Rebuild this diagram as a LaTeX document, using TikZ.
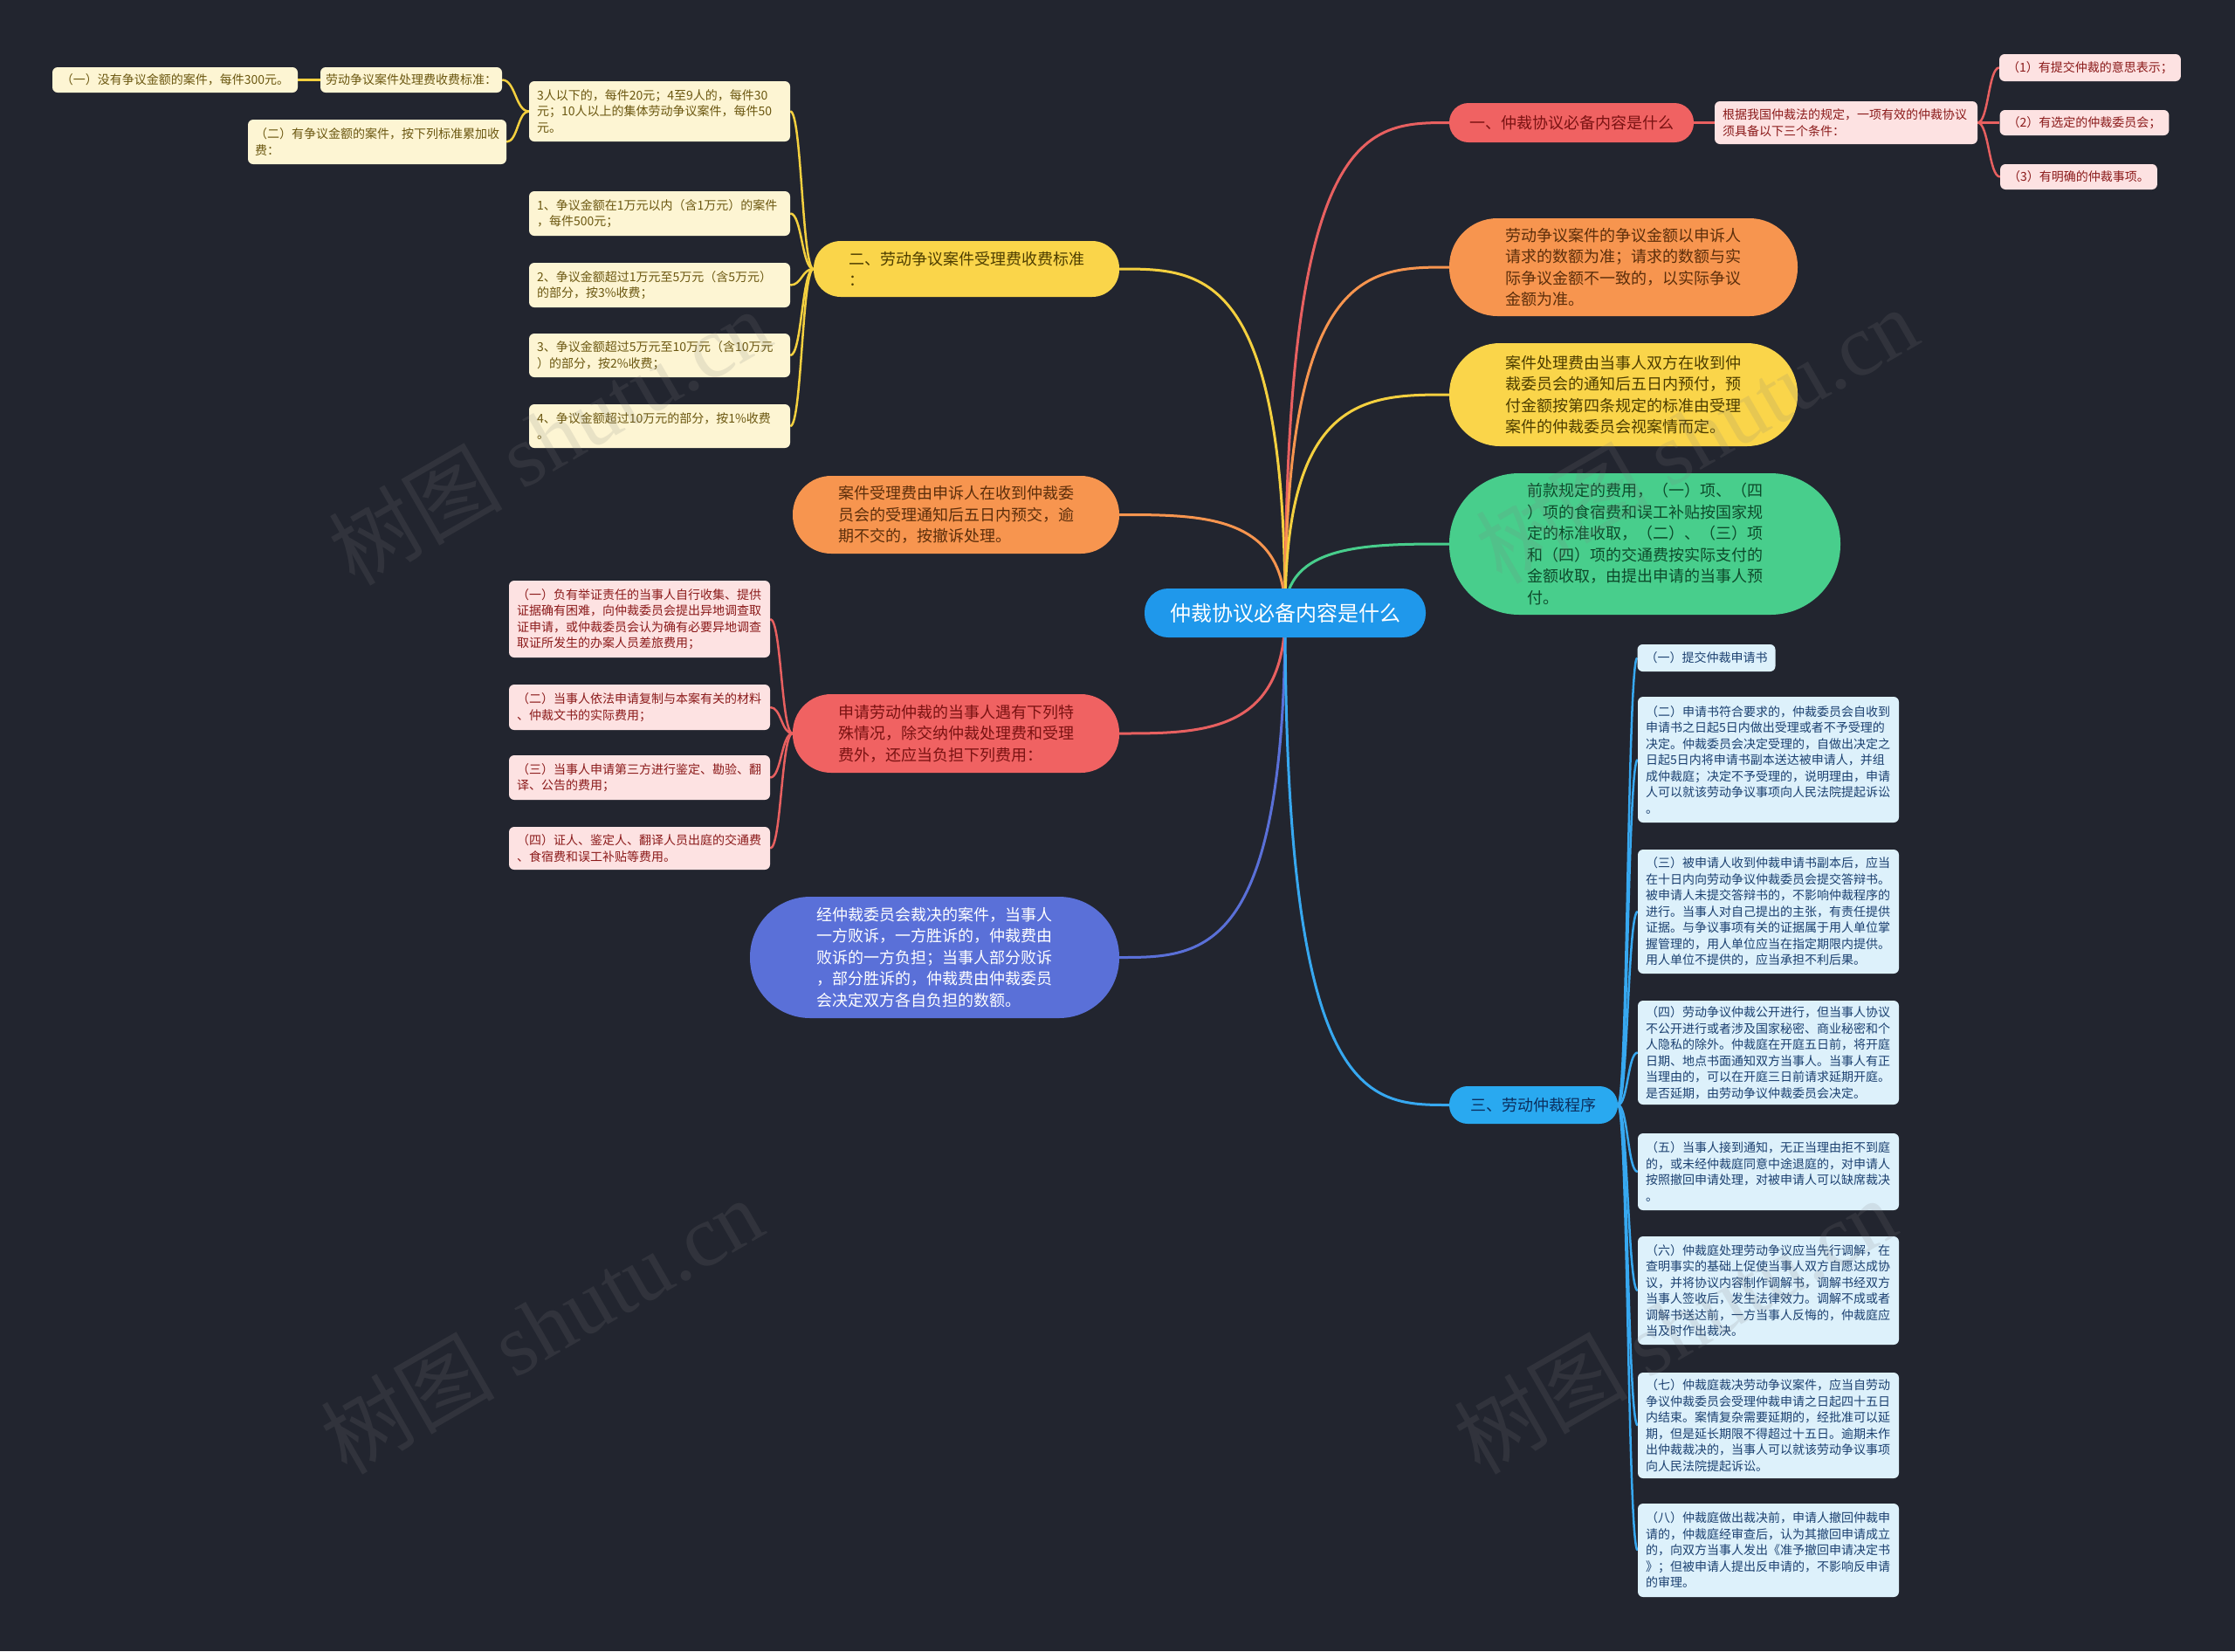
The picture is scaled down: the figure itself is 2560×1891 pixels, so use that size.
\documentclass[tikz,border=0pt]{standalone}
\usepackage{fontspec}
\setmainfont{Noto Sans CJK SC}
\newfontfamily\wmlatin{Liberation Serif}
\usetikzlibrary{calc,backgrounds}
\definecolor{bgc}{HTML}{22252F}
\definecolor{cRoot}{HTML}{1F98EB}
\definecolor{cYl}{HTML}{FAD54A}
\definecolor{cYlT}{HTML}{4D3D00}
\definecolor{cYleaf}{HTML}{FDF5D3}
\definecolor{cYleafT}{HTML}{6B5710}
\definecolor{cOr}{HTML}{F7954F}
\definecolor{cOrT}{HTML}{5C2E0B}
\definecolor{cRd}{HTML}{F06262}
\definecolor{cRdT}{HTML}{7A1212}
\definecolor{cRleaf}{HTML}{FDE2E2}
\definecolor{cRleafT}{HTML}{8B1A1A}
\definecolor{cGr}{HTML}{48CE8C}
\definecolor{cGrT}{HTML}{0D4A2B}
\definecolor{cPu}{HTML}{5A70D8}
\definecolor{cBl}{HTML}{29A9F0}
\definecolor{cBlT}{HTML}{0B2F5E}
\definecolor{cBleaf}{HTML}{DDF1FB}
\definecolor{cBleafT}{HTML}{1B4070}
\definecolor{lnY}{HTML}{F4D03F}
\definecolor{lnO}{HTML}{F7954F}
\definecolor{lnR}{HTML}{E86060}
\definecolor{lnG}{HTML}{48CE8C}
\definecolor{lnP}{HTML}{5A70D8}
\definecolor{lnB}{HTML}{37A8F0}
\newcommand\mmroot[3]{\draw[#1] (#2) .. controls (#2 |- #3) and ($(#2 |- #3)!0.5!(#3)$) .. (#3);}
\newcommand\mmkid[3]{\draw[#1] (#2) .. controls ($(#2)!0.5!(#2 -| #3)$) and ($(#3)!0.5!(#3 -| #2)$) .. (#3);}
\begin{document}
\begin{tikzpicture}[x=1pt,y=-1pt,
  lone/.style={inner xsep=0pt, inner ysep=2pt, align=left, font=\fontsize{18}{24.5}\selectfont},
  leaf/.style={inner xsep=9pt, inner ysep=2pt, align=left, rounded corners=6pt, font=\fontsize{14}{18.5}\selectfont},
  wide/.style={text width=281pt, minimum width=299pt},
  yleaf/.style={leaf, fill=cYleaf, text=cYleafT},
  rleaf/.style={leaf, fill=cRleaf, text=cRleafT},
  bleaf/.style={leaf, fill=cBleaf, text=cBleafT},
  mainln/.style={line width=3pt, #1},
  kidln/.style={line width=2.5pt, #1},
  wm/.style={text=gray, opacity=0.16, rotate=30, font=\fontsize{100}{100}\selectfont}
]
\useasboundingbox (0,0) rectangle (2560,1891);

% root
\node[fill=cRoot, text=white, minimum width=322pt, minimum height=56pt, rounded corners=27pt, font=\fontsize{24}{28}\selectfont, inner sep=0pt] (root) at (1472,702) {仲裁协议必备内容是什么};

% level 1 left
\node[lone, fill=cYl, text=cYlT, minimum width=350pt, minimum height=64pt, rounded corners=31pt] (Y1) at (1107,308) {二、劳动争议案件受理费收费标准\\：};
\node[lone, fill=cOr, text=cOrT, minimum width=374pt, minimum height=89pt, rounded corners=44pt] (O1) at (1095,589.5) {案件受理费由申诉人在收到仲裁委\\员会的受理通知后五日内预交，逾\\期不交的，按撤诉处理。};
\node[lone, fill=cRd, text=cRdT, minimum width=374pt, minimum height=90pt, rounded corners=44pt] (R1) at (1095,840) {申请劳动仲裁的当事人遇有下列特\\殊情况，除交纳仲裁处理费和受理\\费外，还应当负担下列费用：};
\node[lone, fill=cPu, text=white, minimum width=423pt, minimum height=139pt, rounded corners=69pt] (P1) at (1070.5,1096.5) {经仲裁委员会裁决的案件，当事人\\一方败诉，一方胜诉的，仲裁费由\\败诉的一方负担；当事人部分败诉\\，部分胜诉的，仲裁费由仲裁委员\\会决定双方各自负担的数额。};

% level 1 right
\node[lone, fill=cRd, text=cRdT, minimum width=280pt, minimum height=45pt, rounded corners=22pt] (RB) at (1800,140.5) {一、仲裁协议必备内容是什么};
\node[lone, fill=cOr, text=cOrT, minimum width=399pt, minimum height=112pt, rounded corners=55pt] (O2) at (1859.5,306) {劳动争议案件的争议金额以申诉人\\请求的数额为准；请求的数额与实\\际争议金额不一致的，以实际争议\\金额为准。};
\node[lone, fill=cYl, text=cYlT, minimum width=399pt, minimum height=118pt, rounded corners=58pt] (Y2) at (1859.5,452) {案件处理费由当事人双方在收到仲\\裁委员会的通知后五日内预付，预\\付金额按第四条规定的标准由受理\\案件的仲裁委员会视案情而定。};
\node[lone, fill=cGr, text=cGrT, minimum width=448pt, minimum height=162pt, rounded corners=80pt] (G1) at (1884,623) {前款规定的费用，（一）项、（四\\）项的食宿费和误工补贴按国家规\\定的标准收取，（二）、（三）项\\和（四）项的交通费按实际支付的\\金额收取，由提出申请的当事人预\\付。};
\node[lone, fill=cBl, text=cBlT, minimum width=193pt, minimum height=43pt, rounded corners=21pt] (BB) at (1756.5,1265.5) {三、劳动仲裁程序};

% yellow leaves
\node[yleaf, minimum width=281pt, minimum height=29pt] (Lt1) at (200.5,91.5) {（一）没有争议金额的案件，每件300元。};
\node[yleaf, minimum width=208pt, minimum height=29pt, inner xsep=4pt] (Lt2) at (471,91.5) {劳动争议案件处理费收费标准：};
\node[yleaf, text width=280pt, inner xsep=8pt, minimum height=51pt] (Lt3) at (432,162.5) {（二）有争议金额的案件，按下列标准累加收\\费：};
\node[yleaf, wide, minimum height=69pt] (Ya0) at (755.5,127.5) {3人以下的，每件20元；4至9人的，每件30\\元；10人以上的集体劳动争议案件，每件50\\元。};
\node[yleaf, wide, minimum height=51pt] (Ya1) at (755.5,244.5) {1、争议金额在1万元以内（含1万元）的案件\\，每件500元；};
\node[yleaf, wide, minimum height=51pt] (Ya2) at (755.5,326.5) {2、争议金额超过1万元至5万元（含5万元）\\的部分，按3\%收费；};
\node[yleaf, wide, minimum height=50pt] (Ya3) at (755.5,407) {3、争议金额超过5万元至10万元（含10万元\\）的部分，按2\%收费；};
\node[yleaf, wide, minimum height=50pt] (Ya4) at (755.5,488) {4、争议金额超过10万元的部分，按1\%收费\\。};

% red leaves
\node[rleaf, wide, minimum height=88pt] (Ra1) at (732.5,709) {（一）负有举证责任的当事人自行收集、提供\\证据确有困难，向仲裁委员会提出异地调查取\\证申请，或仲裁委员会认为确有必要异地调查\\取证所发生的办案人员差旅费用；};
\node[rleaf, wide, minimum height=52pt] (Ra2) at (732.5,810) {（二）当事人依法申请复制与本案有关的材料\\、仲裁文书的实际费用；};
\node[rleaf, wide, minimum height=51pt] (Ra3) at (732.5,890.5) {（三）当事人申请第三方进行鉴定、勘验、翻\\译、公告的费用；};
\node[rleaf, wide, minimum height=49pt] (Ra4) at (732.5,971.5) {（四）证人、鉴定人、翻译人员出庭的交通费\\、食宿费和误工补贴等费用。};

\node[rleaf, text width=283pt, minimum height=49pt] (RR) at (2114.5,140.5) {根据我国仲裁法的规定，一项有效的仲裁协议\\须具备以下三个条件：};
\node[rleaf, minimum width=204pt, minimum height=31pt] (C1) at (2394,77.5) {（1）有提交仲裁的意思表示；};
\node[rleaf, minimum width=191pt, minimum height=29pt] (C2) at (2387.5,140.5) {（2）有选定的仲裁委员会；};
\node[rleaf, minimum width=178pt, minimum height=29pt] (C3) at (2381,202.5) {（3）有明确的仲裁事项。};

% blue leaves
\node[bleaf, minimum width=157pt, minimum height=31pt] (B1) at (1954.5,753.5) {（一）提交仲裁申请书};
\node[bleaf, wide, minimum height=144pt] (B2) at (2025.5,870) {（二）申请书符合要求的，仲裁委员会自收到\\申请书之日起5日内做出受理或者不予受理的\\决定。仲裁委员会决定受理的，自做出决定之\\日起5日内将申请书副本送达被申请人，并组\\成仲裁庭；决定不予受理的，说明理由，申请\\人可以就该劳动争议事项向人民法院提起诉讼\\。};
\node[bleaf, wide, minimum height=142pt] (B3) at (2025.5,1044) {（三）被申请人收到仲裁申请书副本后，应当\\在十日内向劳动争议仲裁委员会提交答辩书。\\被申请人未提交答辩书的，不影响仲裁程序的\\进行。当事人对自己提出的主张，有责任提供\\证据。与争议事项有关的证据属于用人单位掌\\握管理的，用人单位应当在指定期限内提供。\\用人单位不提供的，应当承担不利后果。};
\node[bleaf, wide, minimum height=119pt] (B4) at (2025.5,1205.5) {（四）劳动争议仲裁公开进行，但当事人协议\\不公开进行或者涉及国家秘密、商业秘密和个\\人隐私的除外。仲裁庭在开庭五日前，将开庭\\日期、地点书面通知双方当事人。当事人有正\\当理由的，可以在开庭三日前请求延期开庭。\\是否延期，由劳动争议仲裁委员会决定。};
\node[bleaf, wide, minimum height=88pt] (B5) at (2025.5,1342) {（五）当事人接到通知，无正当理由拒不到庭\\的，或未经仲裁庭同意中途退庭的，对申请人\\按照撤回申请处理，对被申请人可以缺席裁决\\。};
\node[bleaf, wide, minimum height=124pt] (B6) at (2025.5,1478) {（六）仲裁庭处理劳动争议应当先行调解，在\\查明事实的基础上促使当事人双方自愿达成协\\议，并将协议内容制作调解书，调解书经双方\\当事人签收后，发生法律效力。调解不成或者\\调解书送达前，一方当事人反悔的，仲裁庭应\\当及时作出裁决。};
\node[bleaf, wide, minimum height=121pt] (B7) at (2025.5,1632.5) {（七）仲裁庭裁决劳动争议案件，应当自劳动\\争议仲裁委员会受理仲裁申请之日起四十五日\\内结束。案情复杂需要延期的，经批准可以延\\期，但是延长期限不得超过十五日。逾期未作\\出仲裁裁决的，当事人可以就该劳动争议事项\\向人民法院提起诉讼。};
\node[bleaf, wide, minimum height=107pt] (B8) at (2025.5,1775.5) {（八）仲裁庭做出裁决前，申请人撤回仲裁申\\请的，仲裁庭经审查后，认为其撤回申请成立\\的，向双方当事人发出《准予撤回申请决定书\\》；但被申请人提出反申请的，不影响反申请\\的审理。};

\begin{pgfonlayer}{background}
\fill[bgc] (0,0) rectangle (2560,1891);
\mmroot{mainln=lnY}{root.center}{Y1.east}
\mmroot{mainln=lnO}{root.center}{O1.east}
\mmroot{mainln=lnR}{root.center}{R1.east}
\mmroot{mainln=lnP}{root.center}{P1.east}
\mmroot{mainln=lnR}{root.center}{RB.west}
\mmroot{mainln=lnO}{root.center}{O2.west}
\mmroot{mainln=lnY}{root.center}{Y2.west}
\mmroot{mainln=lnG}{root.center}{G1.west}
\mmroot{mainln=lnB}{root.center}{BB.west}
\mmkid{kidln=lnY}{Y1.west}{Ya0.east}
\mmkid{kidln=lnY}{Y1.west}{Ya1.east}
\mmkid{kidln=lnY}{Y1.west}{Ya2.east}
\mmkid{kidln=lnY}{Y1.west}{Ya3.east}
\mmkid{kidln=lnY}{Y1.west}{Ya4.east}
\mmkid{kidln=lnY}{Ya0.west}{Lt2.east}
\mmkid{kidln=lnY}{Ya0.west}{Lt3.east}
\mmkid{kidln=lnY}{Lt2.west}{Lt1.east}
\mmkid{kidln=lnR}{R1.west}{Ra1.east}
\mmkid{kidln=lnR}{R1.west}{Ra2.east}
\mmkid{kidln=lnR}{R1.west}{Ra3.east}
\mmkid{kidln=lnR}{R1.west}{Ra4.east}
\mmkid{kidln=lnR}{RB.east}{RR.west}
\mmkid{kidln=lnR}{RR.east}{C1.west}
\mmkid{kidln=lnR}{RR.east}{C2.west}
\mmkid{kidln=lnR}{RR.east}{C3.west}
\mmkid{kidln=lnB}{BB.east}{B1.west}
\mmkid{kidln=lnB}{BB.east}{B2.west}
\mmkid{kidln=lnB}{BB.east}{B3.west}
\mmkid{kidln=lnB}{BB.east}{B4.west}
\mmkid{kidln=lnB}{BB.east}{B5.west}
\mmkid{kidln=lnB}{BB.east}{B6.west}
\mmkid{kidln=lnB}{BB.east}{B7.west}
\mmkid{kidln=lnB}{BB.east}{B8.west}
\end{pgfonlayer}

% watermarks
\node[wm] (wm1) at (629,500) {树图 {\wmlatin shutu.cn}};
\node[wm] (wm2) at (620,1518) {树图 {\wmlatin shutu.cn}};
\node[wm] (wm3) at (1943,498) {树图 {\wmlatin shutu.cn}};
\node[wm] (wm4) at (1918,1518) {树图 {\wmlatin shutu.cn}};
\end{tikzpicture}
\end{document}
